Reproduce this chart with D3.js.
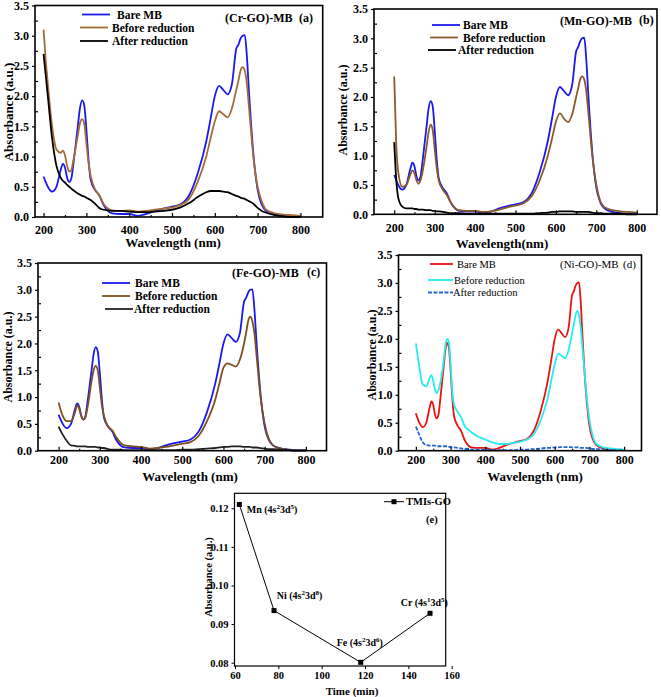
<!DOCTYPE html>
<html><head><meta charset="utf-8">
<script src="https://cdn.jsdelivr.net/npm/d3@7"></script>
<style>
body{margin:0;background:#fff;}
text{font-family:"Liberation Serif","Times New Roman",serif;}
</style></head>
<body><svg id="c" width="661" height="697"></svg>
<script>
// ---------- DATA ----------
const WL = [200,205,210,220,230,240,245,250,255,260,265,270,280,285,290,295,300,305,310,320,330,340,350,360,380,400,420,440,460,480,500,520,540,560,580,590,600,610,620,630,640,650,655,660,665,670,675,680,690,700,710,720,740,760,780,800];
const bareMB = [0.67,0.58,0.50,0.42,0.50,0.78,0.88,0.82,0.65,0.58,0.64,0.90,1.50,1.80,1.93,1.85,1.45,0.95,0.62,0.45,0.36,0.20,0.10,0.06,0.05,0.05,0.02,0.05,0.10,0.14,0.17,0.21,0.36,0.72,1.25,1.62,2.00,2.17,2.10,2.03,2.20,2.78,2.85,2.95,3.00,3.01,2.65,2.05,1.05,0.45,0.20,0.10,0.04,0.02,0.01,0.01];
const beforeCr = [3.10,2.60,2.20,1.50,1.12,1.06,1.10,1.02,0.85,0.75,0.78,0.95,1.35,1.55,1.62,1.55,1.22,0.90,0.68,0.46,0.36,0.22,0.14,0.11,0.10,0.11,0.09,0.10,0.12,0.14,0.16,0.20,0.30,0.58,1.00,1.30,1.58,1.75,1.70,1.65,1.80,2.10,2.25,2.42,2.48,2.42,2.20,1.80,1.00,0.50,0.25,0.12,0.06,0.04,0.03,0.02];
const afterCr = [2.70,2.35,2.00,1.30,0.85,0.65,0.60,0.57,0.53,0.50,0.47,0.44,0.39,0.37,0.35,0.34,0.32,0.30,0.28,0.22,0.15,0.12,0.11,0.10,0.10,0.09,0.08,0.08,0.09,0.10,0.12,0.16,0.23,0.33,0.41,0.43,0.43,0.43,0.42,0.41,0.38,0.35,0.34,0.32,0.31,0.30,0.28,0.26,0.22,0.15,0.10,0.07,0.03,0.01,0.00,0.00];
const beforeMn = [2.35,1.20,0.72,0.47,0.50,0.68,0.75,0.70,0.58,0.52,0.58,0.72,1.15,1.40,1.53,1.45,1.12,0.80,0.58,0.42,0.33,0.20,0.11,0.07,0.06,0.06,0.04,0.05,0.08,0.12,0.15,0.19,0.31,0.58,1.00,1.28,1.58,1.72,1.63,1.57,1.70,2.00,2.15,2.30,2.35,2.30,2.10,1.75,1.00,0.50,0.22,0.12,0.07,0.05,0.04,0.03];
const afterMn = [1.23,0.60,0.28,0.13,0.10,0.10,0.10,0.09,0.09,0.08,0.08,0.08,0.07,0.07,0.07,0.06,0.06,0.05,0.05,0.04,0.03,0.02,0.02,0.02,0.01,0.01,0.01,0.01,0.01,0.01,0.01,0.01,0.01,0.02,0.03,0.04,0.04,0.05,0.05,0.05,0.05,0.04,0.04,0.04,0.04,0.04,0.04,0.04,0.03,0.02,0.02,0.01,0.01,0.01,0.00,0.00];
const beforeFe = [0.90,0.76,0.65,0.55,0.55,0.72,0.85,0.78,0.65,0.58,0.62,0.80,1.30,1.50,1.58,1.50,1.18,0.85,0.65,0.45,0.38,0.25,0.15,0.10,0.08,0.07,0.04,0.05,0.07,0.10,0.13,0.16,0.28,0.55,0.95,1.25,1.55,1.63,1.60,1.57,1.70,2.00,2.20,2.42,2.50,2.42,2.20,1.80,1.00,0.50,0.22,0.10,0.04,0.01,0.00,0.00];
const afterFe = [0.45,0.37,0.30,0.18,0.10,0.09,0.08,0.08,0.08,0.08,0.08,0.07,0.07,0.07,0.07,0.06,0.06,0.05,0.05,0.03,0.02,0.02,0.02,0.01,0.01,0.01,0.01,0.01,0.01,0.01,0.02,0.02,0.03,0.04,0.05,0.06,0.07,0.07,0.08,0.08,0.08,0.07,0.07,0.07,0.07,0.06,0.06,0.06,0.05,0.04,0.03,0.03,0.02,0.01,0.00,0.00];
const beforeNi = [1.92,1.70,1.50,1.18,1.15,1.30,1.35,1.25,1.10,1.03,1.08,1.20,1.60,1.88,2.00,1.95,1.55,1.05,0.82,0.70,0.60,0.45,0.38,0.33,0.25,0.20,0.15,0.12,0.12,0.14,0.16,0.20,0.30,0.55,0.95,1.25,1.55,1.73,1.70,1.65,1.80,2.10,2.25,2.42,2.50,2.42,2.20,1.85,1.10,0.55,0.25,0.12,0.06,0.04,0.03,0.02];
const afterNi = [0.43,0.36,0.28,0.15,0.10,0.09,0.09,0.09,0.09,0.08,0.08,0.08,0.08,0.08,0.08,0.07,0.07,0.06,0.06,0.05,0.04,0.03,0.03,0.02,0.02,0.02,0.01,0.01,0.01,0.01,0.02,0.02,0.03,0.04,0.05,0.05,0.06,0.06,0.065,0.065,0.065,0.06,0.06,0.06,0.06,0.06,0.05,0.05,0.05,0.04,0.03,0.03,0.02,0.01,0.01,0.01];
const seriesNames = ["Bare MB","Before reduction","After reduction"];
const yTicks = [0.0,0.5,1.0,1.5,2.0,2.5,3.0,3.5];
const xTicks = [200,300,400,500,600,700,800];

const tmTime = [62,78,118,150];
const tmAbs = [0.121,0.0935,0.0801,0.0928];
const tmIons = [["Mn","2","5"],["Ni","2","8"],["Fe","2","6"],["Cr","1","5"]];
const eXTicks = [60,80,100,120,140,160];
const eYTicks = [0.08,0.09,0.10,0.11,0.12];

// ---------- DRAW ----------
const svg = d3.select("#c");
const SERIF = '"Liberation Serif","Times New Roman",serif';
const SANS = '"Liberation Sans",Arial,sans-serif';

function spectrum(p){
  const g = svg.append("g");
  const x = d3.scaleLinear().domain(p.xd).range([p.l,p.r]);
  const y = d3.scaleLinear().domain([0,3.5]).range([p.b,p.yt]);
  const line = d3.line().x((d,i)=>x(WL[i])).y(d=>y(d)).curve(d3.curveMonotoneX);
  p.series.forEach(s=>{
    g.append("path").attr("d",line(s.v)).attr("fill","none").attr("stroke",s.c)
      .attr("stroke-width",s.w||1.8).attr("stroke-dasharray",s.dash||null);
  });
  const ax = g.append("g").attr("transform",`translate(0,${p.b})`)
    .call(d3.axisBottom(x).tickValues(xTicks).tickFormat(d3.format("d")).tickSizeInner(-4).tickSizeOuter(0).tickPadding(p.xpad));
  const axm = g.append("g").attr("transform",`translate(0,${p.b})`)
    .call(d3.axisBottom(x).tickValues(xTicks.slice(0,-1).map(d=>d+50)).tickFormat("").tickSizeInner(-2).tickSizeOuter(0));
  const ay = g.append("g").attr("transform",`translate(${p.l},0)`)
    .call(d3.axisLeft(y).tickValues(yTicks).tickFormat(d3.format(".1f")).tickSizeInner(3).tickSizeOuter(0).tickPadding(3));
  const aym = g.append("g").attr("transform",`translate(${p.l},0)`)
    .call(d3.axisLeft(y).tickValues(yTicks.slice(0,-1).map(d=>d+0.25)).tickFormat("").tickSizeInner(-3).tickSizeOuter(0));
  [ax,axm,ay,aym].forEach(a=>{a.select(".domain").remove();a.selectAll("line").attr("stroke","#000").attr("stroke-width",1.2);
    a.selectAll("text").attr("font-family",SERIF).attr("font-weight","bold").attr("font-size",12).attr("fill","#000");});
  g.append("rect").attr("x",p.l).attr("y",p.yt).attr("width",p.r-p.l).attr("height",p.b-p.yt)
    .attr("fill","none").attr("stroke","#000").attr("stroke-width",1.6);
  g.append("text").attr("x",(p.xtx)).attr("y",p.xty).attr("text-anchor","middle")
    .attr("font-family",SERIF).attr("font-weight","bold").attr("font-size",13).text(p.xt);
  g.append("text").attr("transform",`translate(${p.ytx},${p.yty}) rotate(-90)`).attr("text-anchor","middle")
    .attr("dominant-baseline","central").attr("font-family",SERIF).attr("font-weight","bold").attr("font-size",p.ytfs||13).text("Absorbance (a.u.)");
  p.series.forEach((s,i)=>{
    const L = p.leg[i];
    g.append("line").attr("x1",L[0]).attr("x2",L[1]).attr("y1",L[3]).attr("y2",L[3]).attr("stroke",s.c)
      .attr("stroke-width",s.w||1.8).attr("stroke-dasharray",s.dash||null);
    g.append("text").attr("x",L[2]).attr("y",L[3]).attr("dominant-baseline","central")
      .attr("font-family",p.legFont||SERIF).attr("font-weight",p.legWeight||"bold").attr("font-size",p.legFs||11.5).text(seriesNames[i]);
  });
  p.labels.forEach(t=>{
    g.append("text").attr("x",t[1]).attr("y",t[2]).attr("dominant-baseline","central")
      .attr("font-family",SERIF).attr("font-weight",p.labWeight||"bold").attr("font-size",p.labFs||12).text(t[0]);
  });
}

const BLUE="#1a1aee", BROWN="#a46c36", BLACK="#000";
spectrum({l:35,r:322.7,yt:5.5,b:217,xd:[180,852],xpad:8,
  series:[{v:bareMB,c:BLUE},{v:beforeCr,c:BROWN},{v:afterCr,c:BLACK}],
  xt:"Wavelength (nm)",xtx:173,xty:247,ytx:8,yty:112,
  leg:[[82,110,117,14.5],[80,108,112,27.5],[80,108,112,41]],
  labels:[["(Cr-GO)-MB",225,18],["(a)",299,18]]});
spectrum({l:374,r:657,yt:9,b:214.3,xd:[150,850],xpad:9,
  series:[{v:bareMB,c:BLUE},{v:beforeMn,c:"#8b5a2b"},{v:afterMn,c:BLACK}],
  xt:"Wavelength(nm)",xtx:502,xty:247.5,ytx:343,yty:110,ytfs:12,
  leg:[[432,460,463,25],[430,458,463,37.5],[428,456,458,50]],
  labels:[["(Mn-GO)-MB",560,21],["(b)",639,20]]});
spectrum({l:38,r:326.5,yt:263,b:450.7,xd:[150,850],xpad:5,
  series:[{v:bareMB,c:BLUE},{v:beforeFe,c:"#7e5020"},{v:afterFe,c:"#222"}],
  xt:"Wavelength (nm)",xtx:190,xty:481,ytx:8,yty:357,ytfs:12,
  leg:[[102,130,135,283],[102,130,135,296],[105,133,134,309]],
  labels:[["(Fe-GO)-MB",232,273],["(c)",307,272]]});
spectrum({l:398.5,r:641.5,yt:255,b:450.7,xd:[150,850],xpad:5,
  series:[{v:bareMB,c:"#ee1111"},{v:beforeNi,c:"#22eeee"},{v:afterNi,c:"#2266cc",dash:"4,1.5"}],
  xt:"Wavelength (nm)",xtx:535,xty:481,ytx:372,yty:355,ytfs:12,
  leg:[[430,453,457,264],[428,453,454,280],[428,453,453,292.5]],legFont:SANS,legWeight:"normal",legFs:10.5,
  labels:[["(Ni-GO)-MB",560,264],["(d)",623,264]],labWeight:"normal",labFs:11});

// ---------- panel e ----------
(function(){
  const g = svg.append("g");
  const L=234.5,R=445.7,T=493.3,B=666;
  const x = d3.scaleLinear().domain([60,160]).range([235,451.7]);
  const y = d3.scaleLinear().domain([0.08,0.12]).range([662.7,508.3]);
  const pts = tmTime.map((t,i)=>[t,tmAbs[i]]);
  g.append("path").attr("d",d3.line().x(d=>x(d[0])).y(d=>y(d[1]))(pts)).attr("fill","none").attr("stroke","#000").attr("stroke-width",1);
  g.selectAll("rect.m").data(pts).enter().append("rect").attr("x",d=>x(d[0])-2.5).attr("y",d=>y(d[1])-2.5)
    .attr("width",5).attr("height",5).attr("fill","#000");
  const ax = g.append("g").attr("transform",`translate(0,${B})`)
    .call(d3.axisBottom(x).tickValues(eXTicks).tickFormat(d3.format("d")).tickSizeInner(3).tickSizeOuter(0).tickPadding(3));
  const ay = g.append("g").attr("transform",`translate(${L},0)`)
    .call(d3.axisLeft(y).tickValues(eYTicks).tickFormat(d3.format(".2f")).tickSizeInner(3).tickSizeOuter(0).tickPadding(3));
  [ax,ay].forEach(a=>{a.select(".domain").remove();a.selectAll("line").attr("stroke","#000");
    a.selectAll("text").attr("font-family",SERIF).attr("font-weight","bold").attr("font-size",10.5).attr("fill","#000");});
  g.append("rect").attr("x",L).attr("y",T).attr("width",R-L).attr("height",B-T).attr("fill","none").attr("stroke","#000").attr("stroke-width",1.2);
  g.append("text").attr("x",352).attr("y",691).attr("text-anchor","middle").attr("dominant-baseline","central")
    .attr("font-family",SERIF).attr("font-weight","bold").attr("font-size",11).text("Time (min)");
  g.append("text").attr("transform","translate(208,577) rotate(-90)").attr("text-anchor","middle").attr("dominant-baseline","central")
    .attr("font-family",SERIF).attr("font-weight","bold").attr("font-size",10.5).text("Absorbance (a.u.)");
  g.append("line").attr("x1",384).attr("x2",404).attr("y1",501.7).attr("y2",501.7).attr("stroke","#000");
  g.append("rect").attr("x",391.5).attr("y",499.2).attr("width",5).attr("height",5).attr("fill","#000");
  g.append("text").attr("x",406).attr("y",501.7).attr("dominant-baseline","central").attr("font-family",SERIF).attr("font-weight","bold").attr("font-size",10.5).text("TMIs-GO");
  g.append("text").attr("x",426).attr("y",519).attr("dominant-baseline","central").attr("font-family",SERIF).attr("font-weight","bold").attr("font-size",10.5).text("(e)");
  const labPos = [[246.7,513],[276.7,599],[336.7,645.5],[400.7,606]];
  tmIons.forEach((ion,i)=>{
    const t = g.append("text").attr("x",labPos[i][0]).attr("y",labPos[i][1]).attr("font-family",SERIF).attr("font-weight","bold").attr("font-size",10);
    t.append("tspan").text(ion[0]+" (4s");
    t.append("tspan").attr("dy",-4).attr("font-size",7).text(ion[1]);
    t.append("tspan").attr("dy",4).text("3d");
    t.append("tspan").attr("dy",-4).attr("font-size",7).text(ion[2]);
    t.append("tspan").attr("dy",4).text(")");
  });
})();
</script></body></html>
